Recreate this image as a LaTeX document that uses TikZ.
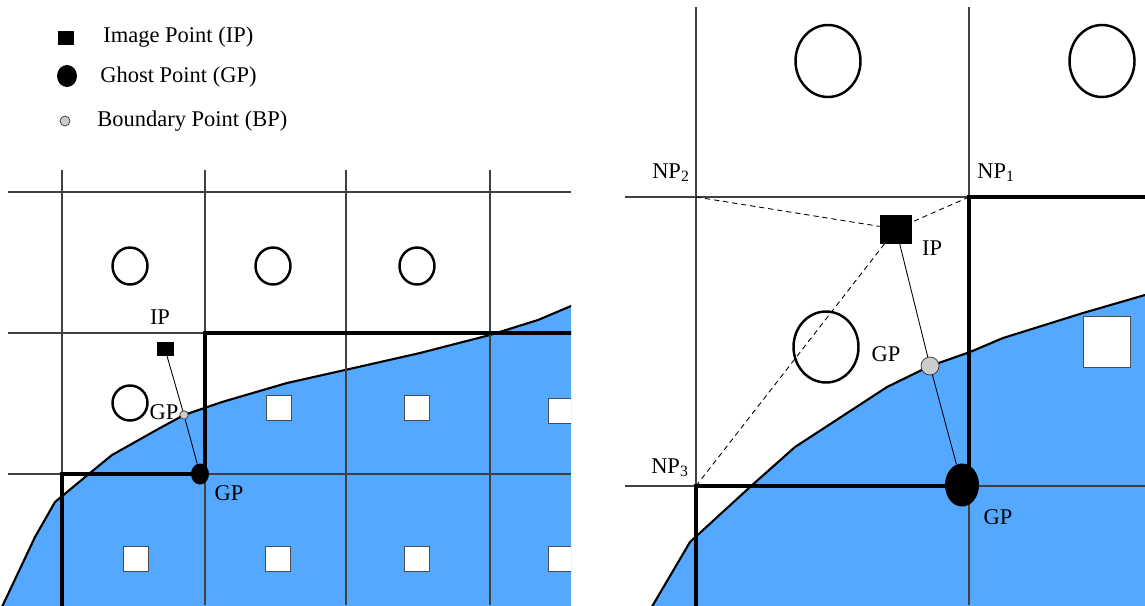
\documentclass[tikz,border=0pt]{standalone}
\usepackage{fontspec}
\setmainfont{Liberation Serif}
\usepackage{tikz}
\usetikzlibrary{positioning, shapes.geometric}
\definecolor{fluidblue}{HTML}{55A8FF}
\tikzset{
	gridline/.style={line width=0.6pt, black!75}
}
\tikzset{
	wallline/.style={line width=2pt, black, line join=miter}
}
\tikzset{
	bodyline/.style={line width=1.2pt, black, fill=fluidblue}
}
\tikzset{
	solidcell/.style={draw=black!70, line width=0.5pt, fill=white}
}
\tikzset{
	fluidcell/.style={draw=black, line width=1.4pt}
}
\tikzset{
	ippoint/.style={rectangle, fill=black, inner sep=0pt},
	gppoint/.style={ellipse, fill=black, inner sep=0pt},
	bppoint/.style={circle, draw=black!80, line width=0.4pt, fill=black!20, inner sep=0pt},
	pointlink/.style={line width=0.5pt, black},
	stencillink/.style={line width=0.5pt, black, dash pattern=on 3pt off 2.2pt},
	labeltext/.style={inner sep=0pt},
	keytext/.style={inner sep=0pt, anchor=west}
}

\begin{document}
\begin{tikzpicture}[x=0.02cm, y=-0.02cm, font=\fontsize{12.8}{15.4}\selectfont]

	\useasboundingbox (0,0) rectangle (1145,605);

	% key
	\begin{scope}
		\node[ippoint, minimum width=0.34cm, minimum height=0.28cm] (keyip) at (66,38) {};
		\node[gppoint, minimum width=0.40cm, minimum height=0.44cm] (keygp) at (67,76) {};
		\node[bppoint, minimum size=0.2cm] (keybp) at (65,121) {};

		\node[keytext] (keyiptext) at (103,37) {Image Point (IP)};
		\node[keytext] (keygptext) at (100,77) {Ghost Point (GP)};
		\node[keytext] (keybptext) at (97,121) {Boundary Point (BP)};
	\end{scope}

	% left: whole mesh
	\begin{scope}
		\clip (0,0) rectangle (571,605);

		\draw[bodyline] (0,611) -- (10,590) -- (35,537) -- (55,502) -- (90,473)
			-- (112,455) -- (160,428) -- (184,415) -- (222,402) -- (287,383)
			-- (345,370) -- (420,353) -- (490,335) -- (538,320) -- (590,298)
			-- (600,298) -- (600,700) -- (-10,700) -- cycle;

		\draw[gridline] (8,192) -- (571,192);
		\draw[gridline] (8,333) -- (571,333);
		\draw[gridline] (8,474) -- (571,474);
		\draw[gridline] (62,170) -- (62,605);
		\draw[gridline] (205,170) -- (205,605);
		\draw[gridline] (346,170) -- (346,605);
		\draw[gridline] (490,170) -- (490,605);

		\draw[solidcell] (266,395) rectangle (291,420);
		\draw[solidcell] (404,395) rectangle (429,420);
		\draw[solidcell] (548,398) rectangle (573,423);
		\draw[solidcell] (123,546) rectangle (148,571);
		\draw[solidcell] (265,546) rectangle (290,571);
		\draw[solidcell] (404,546) rectangle (429,571);
		\draw[solidcell] (548,546) rectangle (573,571);

		\draw[fluidcell] (130,266) ellipse [x radius=17.5, y radius=18.5];
		\draw[fluidcell] (273,266) ellipse [x radius=17.5, y radius=18.5];
		\draw[fluidcell] (417,266) ellipse [x radius=17.5, y radius=18.5];
		\draw[fluidcell] (130,403) ellipse [x radius=17.5, y radius=17.5];

		\draw[wallline] (62,620) -- (62,474) -- (205,474) -- (205,333) -- (590,333);
	\end{scope}

	\node[ippoint, minimum width=0.34cm, minimum height=0.28cm] (ipL) at (165,349) {};
	\node[bppoint, minimum size=0.17cm] (bpL) at (184,415) {};
	\node[gppoint, minimum width=0.36cm, minimum height=0.42cm] (gpL) at (200,474) {};
	\draw[pointlink] (ipL) -- (bpL);
	\draw[pointlink] (bpL) -- (gpL);

	\node[labeltext] (ipLtext) at (160,317) {IP};
	\node[labeltext] (bpLtext) at (164,412) {GP};
	\node[labeltext] (gpLtext) at (229,493) {GP};

	% right: close-up of one ghost point
	\begin{scope}
		\clip (625,0) rectangle (1145,605);

		\draw[bodyline] (640,627) -- (690,542) -- (750,487) -- (795,447) -- (887,387)
			-- (930,366) -- (970,352) -- (1003,338) -- (1083,313) -- (1145,295)
			-- (1165,289) -- (1165,640) -- (630,640) -- cycle;

		\draw[gridline] (625,197) -- (1145,197);
		\draw[gridline] (625,486) -- (1145,486);
		\draw[gridline] (696,7) -- (696,605);
		\draw[gridline] (969,7) -- (969,605);

		\draw[solidcell] (1083,316) rectangle (1130,367);

		\draw[fluidcell] (828,61) ellipse [x radius=32.5, y radius=36];
		\draw[fluidcell] (1102,61) ellipse [x radius=32.5, y radius=36];
		\draw[fluidcell] (826,347) ellipse [x radius=32.5, y radius=35.5];

		\draw[wallline] (696,620) -- (696,486) -- (969,486) -- (969,197) -- (1160,197);
	\end{scope}

	\coordinate (np1) at (969,197);
	\coordinate (np2) at (696,197);
	\coordinate (np3) at (696,486);

	\node[ippoint, minimum width=0.64cm, minimum height=0.58cm] (ipR) at (896,229) {};
	\node[bppoint, minimum size=0.36cm] (bpR) at (930,366) {};
	\node[gppoint, minimum width=0.68cm, minimum height=0.86cm] (gpR) at (962,485) {};

	\draw[stencillink] (np1) -- (ipR);
	\draw[stencillink] (np2) -- (ipR);
	\draw[stencillink] (np3) -- (ipR);
	\draw[pointlink] (ipR) -- (bpR);
	\draw[pointlink] (bpR) -- (gpR);

	\node[labeltext] (np1text) at (996,173) {NP\textsubscript{1}};
	\node[labeltext] (np2text) at (671,173) {NP\textsubscript{2}};
	\node[labeltext] (np3text) at (670,468) {NP\textsubscript{3}};
	\node[labeltext] (ipRtext) at (932,248) {IP};
	\node[labeltext] (bpRtext) at (886,354) {GP};
	\node[labeltext] (gpRtext) at (998,517) {GP};

\end{tikzpicture}
\end{document}
